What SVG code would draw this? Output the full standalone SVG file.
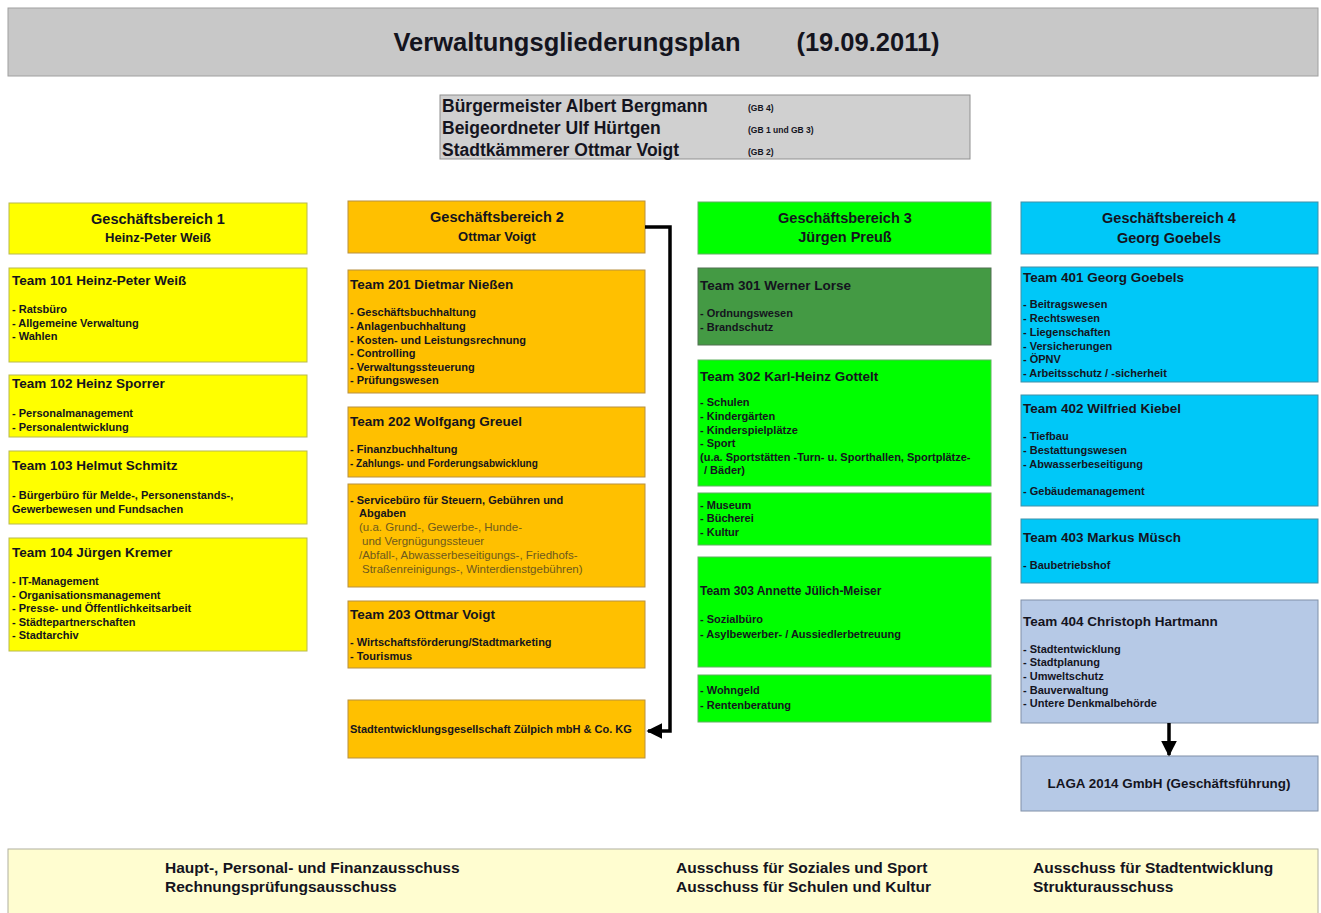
<svg xmlns="http://www.w3.org/2000/svg" width="1321" height="913" viewBox="0 0 1321 913">
<style>
text{font-family:"Liberation Sans",Arial,sans-serif;font-weight:bold;fill:#14141e}
.t{font-size:13.5px}
.i{font-size:11px}
.h{font-size:14.5px}
.hs{font-size:13px}
.c{text-anchor:middle}
.y1{fill:#ffff00;stroke:#b8b850;stroke-width:1}
.y2{fill:#ffc000;stroke:#b89040;stroke-width:1}
.g{fill:#00ff00;stroke:#60b060;stroke-width:1}
.gd{fill:#449a44;stroke:#507050;stroke-width:1}
.b{fill:#00c8f8;stroke:#4090a8;stroke-width:1}
.bl{fill:#b6c9e6;stroke:#8090a8;stroke-width:1}
.lt{font-weight:normal;font-size:11.5px;fill:#6e5a1e}
.f{font-size:15.5px}
</style>
<defs>
<marker id="ah" viewBox="0 0 10 10" refX="9" refY="5" markerWidth="4.6" markerHeight="4.6" orient="auto-start-reverse" markerUnits="strokeWidth">
<path d="M0,0 L10,5 L0,10 z" fill="#000"/>
</marker>
</defs>
<rect width="1321" height="913" fill="#ffffff"/>

<g id="title">
<rect x="8" y="8" width="1310" height="68" fill="#c8c8c8" stroke="#a0a0a0"/>
<text x="567" y="51" font-size="25.5" class="c">Verwaltungsgliederungsplan</text>
<text x="868" y="51" font-size="25.5" class="c">(19.09.2011)</text>
</g>

<g id="leitung">
<rect x="440" y="95" width="530" height="64" fill="#d0d0d0" stroke="#909090"/>
<text x="442" y="112" font-size="17.5">Bürgermeister Albert Bergmann</text>
<text x="748" y="111" font-size="8.5">(GB 4)</text>
<text x="442" y="134" font-size="17.5">Beigeordneter Ulf Hürtgen</text>
<text x="748" y="133" font-size="8.5">(GB 1 und GB 3)</text>
<text x="442" y="156" font-size="17.5">Stadtkämmerer Ottmar Voigt</text>
<text x="748" y="155" font-size="8.5">(GB 2)</text>
</g>

<!-- Column 1 -->
<g id="gb1">
<rect class="y1" x="9" y="203" width="298" height="51"/>
<text class="h c" x="158" y="224">Geschäftsbereich 1</text>
<text class="hs c" x="158" y="242">Heinz-Peter Weiß</text>
</g>
<g id="team101">
<rect class="y1" x="9" y="268" width="298" height="94"/>
<text class="t" x="12" y="285">Team 101 Heinz-Peter Weiß</text>
<text class="i" x="12" y="313">- Ratsbüro</text>
<text class="i" x="12" y="327">- Allgemeine Verwaltung</text>
<text class="i" x="12" y="340">- Wahlen</text>
</g>
<g id="team102">
<rect class="y1" x="9" y="375" width="298" height="62"/>
<text class="t" x="12" y="388">Team 102 Heinz Sporrer</text>
<text class="i" x="12" y="417">- Personalmanagement</text>
<text class="i" x="12" y="431">- Personalentwicklung</text>
</g>
<g id="team103">
<rect class="y1" x="9" y="451" width="298" height="73"/>
<text class="t" x="12" y="470">Team 103 Helmut Schmitz</text>
<text class="i" x="12" y="499">- Bürgerbüro für Melde-, Personenstands-,</text>
<text class="i" x="12" y="513">Gewerbewesen und Fundsachen</text>
</g>
<g id="team104">
<rect class="y1" x="9" y="538" width="298" height="113"/>
<text class="t" x="12" y="557">Team 104 Jürgen Kremer</text>
<text class="i" x="12" y="585">- IT-Management</text>
<text class="i" x="12" y="599">- Organisationsmanagement</text>
<text class="i" x="12" y="612">- Presse- und Öffentlichkeitsarbeit</text>
<text class="i" x="12" y="626">- Städtepartnerschaften</text>
<text class="i" x="12" y="639">- Stadtarchiv</text>
</g>

<!-- Column 2 -->
<g id="gb2">
<rect class="y2" x="348" y="201" width="297" height="52"/>
<text class="h c" x="497" y="222">Geschäftsbereich 2</text>
<text class="hs c" x="497" y="241">Ottmar Voigt</text>
</g>
<g id="team201">
<rect class="y2" x="348" y="270" width="297" height="123"/>
<text class="t" x="350" y="289">Team 201 Dietmar Nießen</text>
<text class="i" x="350" y="316">- Geschäftsbuchhaltung</text>
<text class="i" x="350" y="330">- Anlagenbuchhaltung</text>
<text class="i" x="350" y="344">- Kosten- und Leistungsrechnung</text>
<text class="i" x="350" y="357">- Controlling</text>
<text class="i" x="350" y="371">- Verwaltungssteuerung</text>
<text class="i" x="350" y="384">- Prüfungswesen</text>
</g>
<g id="team202">
<rect class="y2" x="348" y="407" width="297" height="70"/>
<text class="t" x="350" y="426">Team 202 Wolfgang Greuel</text>
<text class="i" x="350" y="453">- Finanzbuchhaltung</text>
<text class="i" x="350" y="467" style="font-size:10px">- Zahlungs- und Forderungsabwicklung</text>
</g>
<g id="servicebuero">
<rect class="y2" x="348" y="484" width="297" height="103"/>
<text class="i" x="350" y="504">- Servicebüro für Steuern, Gebühren und</text>
<text class="i" x="359" y="517">Abgaben</text>
<text class="lt" x="359" y="531">(u.a. Grund-, Gewerbe-, Hunde-</text>
<text class="lt" x="362" y="545">und Vergnügungssteuer</text>
<text class="lt" x="359" y="559">/Abfall-, Abwasserbeseitigungs-, Friedhofs-</text>
<text class="lt" x="362" y="573">Straßenreinigungs-, Winterdienstgebühren)</text>
</g>
<g id="team203">
<rect class="y2" x="348" y="601" width="297" height="67"/>
<text class="t" x="350" y="619">Team 203 Ottmar Voigt</text>
<text class="i" x="350" y="646">- Wirtschaftsförderung/Stadtmarketing</text>
<text class="i" x="350" y="660">- Tourismus</text>
</g>
<g id="stadtentwicklungsgesellschaft">
<rect class="y2" x="348" y="700" width="297" height="58"/>
<text class="i" x="350" y="733">Stadtentwicklungsgesellschaft Zülpich mbH &amp; Co. KG</text>
</g>

<!-- Column 3 -->
<g id="gb3">
<rect class="g" x="698" y="202" width="293" height="52"/>
<text class="h c" x="845" y="223">Geschäftsbereich 3</text>
<text class="h c" x="845" y="242">Jürgen Preuß</text>
</g>
<g id="team301">
<rect class="gd" x="698" y="268" width="293" height="77"/>
<text class="t" x="700" y="290">Team 301 Werner Lorse</text>
<text class="i" x="700" y="317">- Ordnungswesen</text>
<text class="i" x="700" y="331">- Brandschutz</text>
</g>
<g id="team302">
<rect class="g" x="698" y="360" width="293" height="126"/>
<text class="t" x="700" y="381">Team 302 Karl-Heinz Gottelt</text>
<text class="i" x="700" y="406">- Schulen</text>
<text class="i" x="700" y="420">- Kindergärten</text>
<text class="i" x="700" y="434">- Kinderspielplätze</text>
<text class="i" x="700" y="447">- Sport</text>
<text class="i" x="700" y="461">(u.a. Sportstätten -Turn- u. Sporthallen,  Sportplätze-</text>
<text class="i" x="704" y="474">/ Bäder)</text>
</g>
<g id="kultur">
<rect class="g" x="698" y="493" width="293" height="52"/>
<text class="i" x="700" y="509">- Museum</text>
<text class="i" x="700" y="522">- Bücherei</text>
<text class="i" x="700" y="536">- Kultur</text>
</g>
<g id="team303">
<rect class="g" x="698" y="557" width="293" height="110"/>
<text class="i" x="700" y="595" style="font-size:12px">Team 303 Annette Jülich-Meiser</text>
<text class="i" x="700" y="623">- Sozialbüro</text>
<text class="i" x="700" y="638">- Asylbewerber- / Aussiedlerbetreuung</text>
</g>
<g id="wohngeld">
<rect class="g" x="698" y="675" width="293" height="47"/>
<text class="i" x="700" y="694">- Wohngeld</text>
<text class="i" x="700" y="709">- Rentenberatung</text>
</g>

<!-- Column 4 -->
<g id="gb4">
<rect class="b" x="1021" y="202" width="297" height="52"/>
<text class="h c" x="1169" y="223">Geschäftsbereich 4</text>
<text class="h c" x="1169" y="243">Georg Goebels</text>
</g>
<g id="team401">
<rect class="b" x="1021" y="267" width="297" height="115"/>
<text class="t" x="1023" y="282">Team 401 Georg Goebels</text>
<text class="i" x="1023" y="308">- Beitragswesen</text>
<text class="i" x="1023" y="322">- Rechtswesen</text>
<text class="i" x="1023" y="336">- Liegenschaften</text>
<text class="i" x="1023" y="350">- Versicherungen</text>
<text class="i" x="1023" y="363">- ÖPNV</text>
<text class="i" x="1023" y="377">- Arbeitsschutz / -sicherheit</text>
</g>
<g id="team402">
<rect class="b" x="1021" y="395" width="297" height="111"/>
<text class="t" x="1023" y="413">Team 402 Wilfried Kiebel</text>
<text class="i" x="1023" y="440">- Tiefbau</text>
<text class="i" x="1023" y="454">- Bestattungswesen</text>
<text class="i" x="1023" y="468">- Abwasserbeseitigung</text>
<text class="i" x="1023" y="495">- Gebäudemanagement</text>
</g>
<g id="team403">
<rect class="b" x="1021" y="519" width="297" height="64"/>
<text class="t" x="1023" y="542">Team 403 Markus Müsch</text>
<text class="i" x="1023" y="569">- Baubetriebshof</text>
</g>
<g id="team404">
<rect class="bl" x="1021" y="600" width="297" height="123"/>
<text class="t" x="1023" y="626">Team 404 Christoph Hartmann</text>
<text class="i" x="1023" y="653">- Stadtentwicklung</text>
<text class="i" x="1023" y="666">- Stadtplanung</text>
<text class="i" x="1023" y="680">- Umweltschutz</text>
<text class="i" x="1023" y="694">- Bauverwaltung</text>
<text class="i" x="1023" y="707">- Untere Denkmalbehörde</text>
</g>
<g id="laga">
<rect class="bl" x="1021" y="756" width="297" height="55"/>
<text class="c" x="1169" y="788" font-size="13.4">LAGA 2014 GmbH (Geschäftsführung)</text>
</g>

<g id="connectors" fill="none" stroke="#000" stroke-width="3.5">
<path d="M645,227 H670 V731 H648" marker-end="url(#ah)"/>
<path d="M1169,723 V755" marker-end="url(#ah)"/>
</g>

<g id="ausschuesse">
<rect x="8" y="849" width="1310" height="70" fill="#fffdd0" stroke="#b0b0a0"/>
<text class="f" x="165" y="873">Haupt-, Personal- und Finanzausschuss</text>
<text class="f" x="165" y="892">Rechnungsprüfungsausschuss</text>
<text class="f" x="676" y="873">Ausschuss für Soziales und Sport</text>
<text class="f" x="676" y="892">Ausschuss für Schulen und Kultur</text>
<text class="f" x="1033" y="873">Ausschuss für Stadtentwicklung</text>
<text class="f" x="1033" y="892">Strukturausschuss</text>
</g>
</svg>
